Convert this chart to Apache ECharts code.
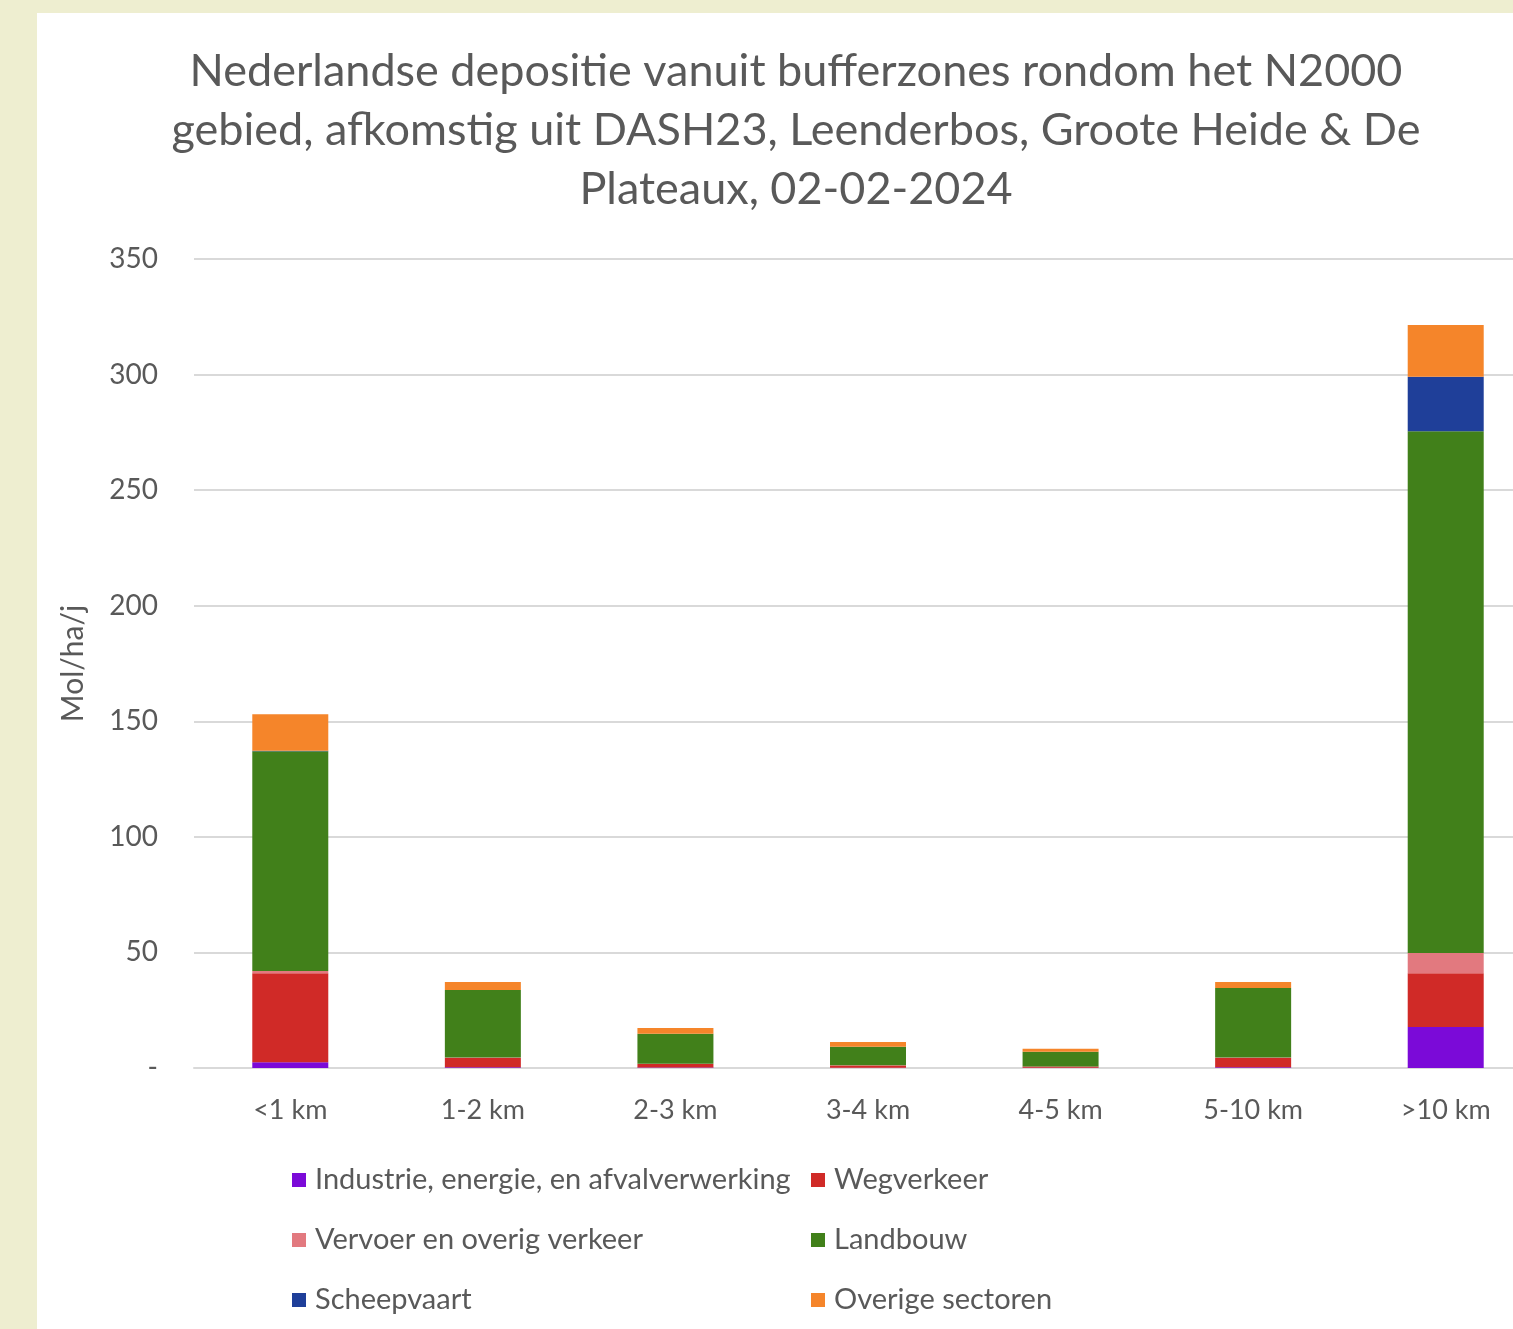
<!DOCTYPE html>
<html>
<head>
<meta charset="utf-8">
<script src="https://cdn.jsdelivr.net/npm/echarts@6/dist/echarts.min.js"></script>
<style>html,body{margin:0;padding:0;background:#eeeed0;overflow:hidden;width:1513px;height:1329px;}#c{width:1560px;height:1329px;}</style>
</head>
<body>
<div id="c"></div>
<script>
const categories = ['<1 km', '1-2 km', '2-3 km', '3-4 km', '4-5 km', '5-10 km', '>10 km'];
const seriesNames = ['Industrie, energie, en afvalverwerking', 'Wegverkeer', 'Vervoer en overig verkeer', 'Landbouw', 'Scheepvaart', 'Overige sectoren'];
const industrie   = [2.5, 0.3, 0.2, 0.1, 0.1, 0.3, 17.7];
const wegverkeer  = [38.5, 4.0, 1.5, 1.0, 0.5, 4.0, 23.3];
const vervoer     = [1.0, 0.2, 0.1, 0.1, 0.1, 0.2, 8.7];
const landbouw    = [95.0, 29.2, 13.0, 8.0, 6.3, 30.1, 225.8];
const scheepvaart = [0.2, 0.0, 0.0, 0.0, 0.0, 0.0, 23.6];
const overige     = [15.8, 3.5, 2.5, 2.0, 1.3, 2.6, 22.3];

const colors = ['#7b0ad8', '#d02a27', '#e2797f', '#41801a', '#1f3f99', '#f5852a'];
const values = [industrie, wegverkeer, vervoer, landbouw, scheepvaart, overige];

const chart = echarts.init(document.getElementById('c'));
const font = 'Lato, "Open Sans", sans-serif';
const legendText = {color: '#595959', fontSize: 29, fontFamily: font, lineHeight: 30, padding: [0, 0, 0, 4]};
chart.setOption({
  backgroundColor: '#eeeed0',
  animation: false,
  graphic: [{type: 'rect', z: -10, shape: {x: 37, y: 13, width: 1560, height: 1320}, style: {fill: '#ffffff'}}],
  title: {
    text: 'Nederlandse depositie vanuit bufferzones rondom het N2000\ngebied, afkomstig uit DASH23, Leenderbos, Groote Heide & De\nPlateaux, 02-02-2024',
    left: 791, top: 37, textAlign: 'center',
    textStyle: {color: '#595959', fontSize: 45, fontWeight: 'normal', fontFamily: font, lineHeight: 59}
  },
  legend: [
    {data: [seriesNames[0], seriesNames[2], seriesNames[4]], orient: 'vertical', left: 287, top: 1160, itemWidth: 14, itemHeight: 14, itemGap: 30, icon: 'rect', textStyle: legendText},
    {data: [seriesNames[1], seriesNames[3], seriesNames[5]], orient: 'vertical', left: 806, top: 1160, itemWidth: 14, itemHeight: 14, itemGap: 30, icon: 'rect', textStyle: legendText}
  ],
  grid: {left: 194, top: 259, width: 1348, height: 809, containLabel: false},
  xAxis: {
    type: 'category', data: categories,
    axisLine: {lineStyle: {color: '#d9d9d9', width: 2}},
    axisTick: {show: false},
    axisLabel: {color: '#595959', fontSize: 27, fontFamily: font, margin: 29, interval: 0}
  },
  yAxis: {
    type: 'value', min: 0, max: 350, interval: 50,
    name: 'Mol/ha/j', nameLocation: 'middle', nameGap: 106, nameRotate: 90,
    nameTextStyle: {color: '#595959', fontSize: 30, fontFamily: font},
    axisLine: {show: false}, axisTick: {show: false},
    axisLabel: {color: '#595959', fontSize: 28, fontFamily: font, margin: 36,
      formatter: v => v === 0 ? '-' : String(v)},
    splitLine: {lineStyle: {color: '#d9d9d9', width: 2}}
  },
  series: seriesNames.map((n, i) => ({
    name: n, type: 'bar', stack: 'total', barWidth: 76,
    itemStyle: {color: colors[i]}, data: values[i]
  }))
});
</script>
</body>
</html>
